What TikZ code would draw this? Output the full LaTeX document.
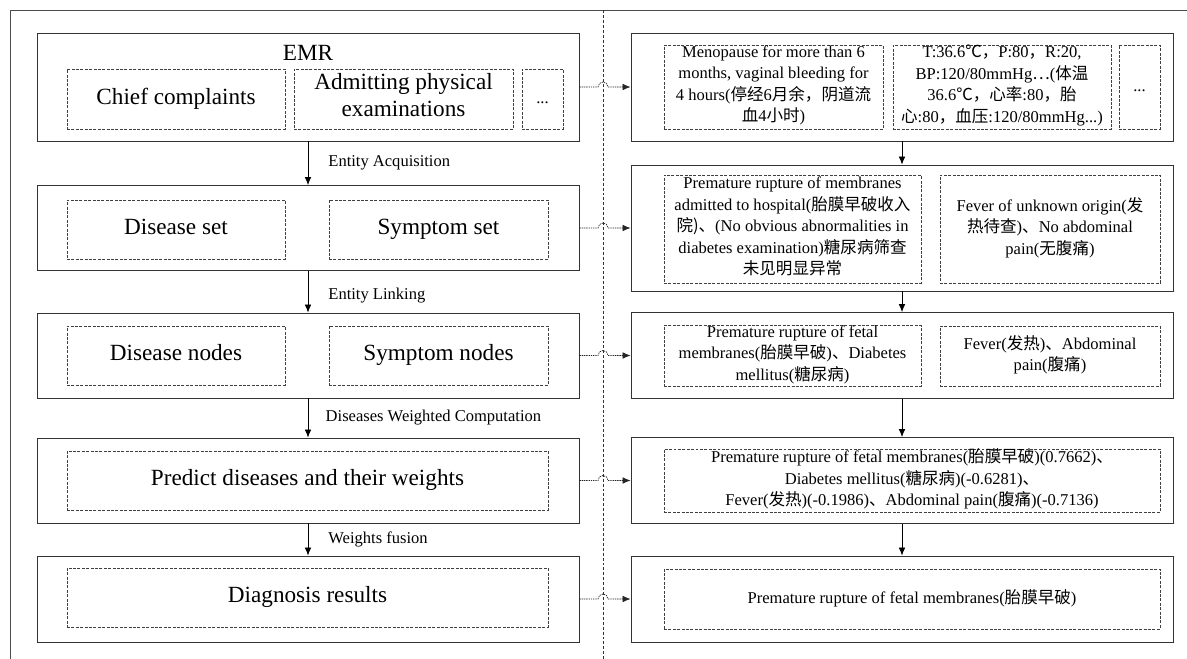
\documentclass[tikz,border=0pt]{standalone}
\usepackage{fontspec}
\setmainfont{Liberation Serif}
\newfontfamily\cjk{Noto Sans CJK SC}
\newcommand{\zh}[1]{{\cjk #1}}
\newcommand{\bigtext}{\fontsize{17.4pt}{20.5pt}\selectfont}
\newcommand{\smalltext}{\fontsize{12.4pt}{16.1pt}\selectfont}
\usepackage{tikz}
\usetikzlibrary{
arrows.meta,
}

\tikzset{
  boxsize/.style 2 args={minimum width=#1*0.75pt, minimum height=#2*0.75pt},
  outerbox/.style={draw=black!80, line width=0.65pt, inner sep=0pt},
  innerbox/.style={draw=black!75, line width=0.5pt, dash pattern=on 2.2pt off 1.1pt, inner sep=0pt, align=center,
    execute at begin node=\strut, execute at end node=\strut},
  bigbox/.style={innerbox, font=\bigtext},
  textbox/.style={innerbox, font=\smalltext},
  flow/.style={-{Latex[length=6pt,width=5pt]}, line width=0.6pt},
  link/.style={-{Latex[length=6pt,width=5pt]}, line width=0.55pt, dash pattern=on 1pt off 0.7pt, draw=black!85},
  steplabel/.style={anchor=west, xshift=15pt, inner sep=0pt, font=\smalltext},
}

\begin{document}
\begin{tikzpicture}[x=0.75pt, y=-0.75pt]
			% Frame and divider
			\useasboundingbox (0,0) rectangle (1187,659);
			\draw[black!70, line width=0.6pt] (1187,10) -- (10,10) -- (10,659);
			\draw[black!80, line width=0.5pt, dash pattern=on 2.2pt off 1.5pt] (603,10) -- (603,659);
			\coordinate (jump) at (598,0);

			% Left column
			\node[outerbox, boxsize={542}{108}] (L1) at (308,87) {};
			\node[font=\bigtext, inner sep=0pt] (emr) at (308,53) {EMR};
			\node[bigbox, boxsize={218}{60}] (chief) at (176,99) {Chief complaints};
			\node[bigbox, boxsize={219}{60}] (admit) at (403.5,99) {Admitting physical\\examinations};
			\node[textbox, boxsize={41}{60}] (ldots) at (542.5,99) {...};

			\node[outerbox, boxsize={542}{85}] (L2) at (308,228) {};
			\node[bigbox, boxsize={218}{59}] (dset) at (176,229.5) {Disease set};
			\node[bigbox, boxsize={219}{59}] (sset) at (438.5,229.5) {Symptom set};

			\node[outerbox, boxsize={542}{85}] (L3) at (308,355.5) {};
			\node[bigbox, boxsize={218}{59}] (dnodes) at (176,355.5) {Disease nodes};
			\node[bigbox, boxsize={219}{59}] (snodes) at (438.5,355.5) {Symptom nodes};

			\node[outerbox, boxsize={542}{85}] (L4) at (308,480.5) {};
			\node[bigbox, boxsize={481}{59}] (predict) at (307.5,480.5) {Predict diseases and their weights};

			\node[outerbox, boxsize={542}{86}] (L5) at (308,599) {};
			\node[bigbox, boxsize={481}{59}] (diag) at (307.5,597.5) {Diagnosis results};

			\draw[flow] (L1.south) -- node[steplabel]{Entity Acquisition} (L2.north);
			\draw[flow] (L2.south) -- node[steplabel, yshift=-3pt]{Entity Linking} (L3.north);
			\draw[flow] (L3.south) -- node[steplabel, xshift=-2pt]{Diseases Weighted Computation} (L4.north);
			\draw[flow] (L4.south) -- node[steplabel]{Weights fusion} (L5.north);

			% Right column
			\node[outerbox, boxsize={542}{108}] (R1) at (902,87) {};
			\node[textbox, boxsize={219}{84}] (r1a) at (773.5,87) {Menopause for more than 6\\months, vaginal bleeding for\\4 hours(\zh{停经}6\zh{月余，阴道流}\\ \zh{血}4\zh{小时})};
			\node[textbox, boxsize={218}{84}] (r1b) at (1002,87) {T:36.6\zh{℃，}P:80\zh{，}R:20,\\BP:120/80mmHg\zh{…}(\zh{体温}\\36.6\zh{℃，心率}:80\zh{，胎}\\ \zh{心}:80\zh{，血压}:120/80mmHg...)};
			\node[textbox, boxsize={41}{84}] (r1c) at (1139.5,87) {...};

			\node[outerbox, boxsize={542}{126}] (R2) at (902,228) {};
			\node[textbox, boxsize={257}{108}] (r2a) at (792.5,229) {Premature rupture of membranes\\admitted to hospital(\zh{胎膜早破收入}\\ \zh{院)、}(No obvious abnormalities in\\diabetes examination)\zh{糖尿病筛查}\\ \zh{未见明显异常}};
			\node[textbox, boxsize={220}{108}] (r2b) at (1050,229) {Fever of unknown origin(\zh{发}\\ \zh{热待查})\zh{、}No abdominal\\pain(\zh{无腹痛})};

			\node[outerbox, boxsize={542}{86}] (R3) at (902,355.5) {};
			\node[textbox, boxsize={257}{60}] (r3a) at (792.5,356) {Premature rupture of fetal\\membranes(\zh{胎膜早破})\zh{、}Diabetes\\mellitus(\zh{糖尿病})};
			\node[textbox, boxsize={220}{60}] (r3b) at (1050,356) {Fever(\zh{发热})\zh{、}Abdominal\\pain(\zh{腹痛})};

			\node[outerbox, boxsize={542}{86}] (R4) at (902,480.5) {};
			\node[textbox, boxsize={496}{59}] (r4a) at (912,480.5) {Premature rupture of fetal membranes(\zh{胎膜早破})(0.7662)\zh{、}\\Diabetes mellitus(\zh{糖尿病})(-0.6281)\zh{、}\\Fever(\zh{发热})(-0.1986)\zh{、}Abdominal pain(\zh{腹痛})(-0.7136)};

			\node[outerbox, boxsize={542}{86}] (R5) at (902,599) {};
			\node[textbox, boxsize={496}{60}] (r5a) at (912,599) {Premature rupture of fetal membranes(\zh{胎膜早破})};

			\draw[flow] (R1.south) -- (R2.north);
			\draw[flow] (R2.south) -- (R3.north);
			\draw[flow] (R3.south) -- (R4.north);
			\draw[flow] (R4.south) -- (R5.north);

			% Links across the divider
			\draw[link] (L1.east) -- (L1.east -| jump) arc[start angle=180, end angle=360, radius=5] -- (R1.west);
			\draw[link] (L2.east) -- (L2.east -| jump) arc[start angle=180, end angle=360, radius=5] -- (R2.west);
			\draw[link] (L3.east) -- (L3.east -| jump) arc[start angle=180, end angle=360, radius=5] -- (R3.west);
			\draw[link] (L4.east) -- (L4.east -| jump) arc[start angle=180, end angle=360, radius=5] -- (R4.west);
			\draw[link] (L5.east) -- (L5.east -| jump) arc[start angle=180, end angle=360, radius=5] -- (R5.west);

		\end{tikzpicture}
\end{document}
